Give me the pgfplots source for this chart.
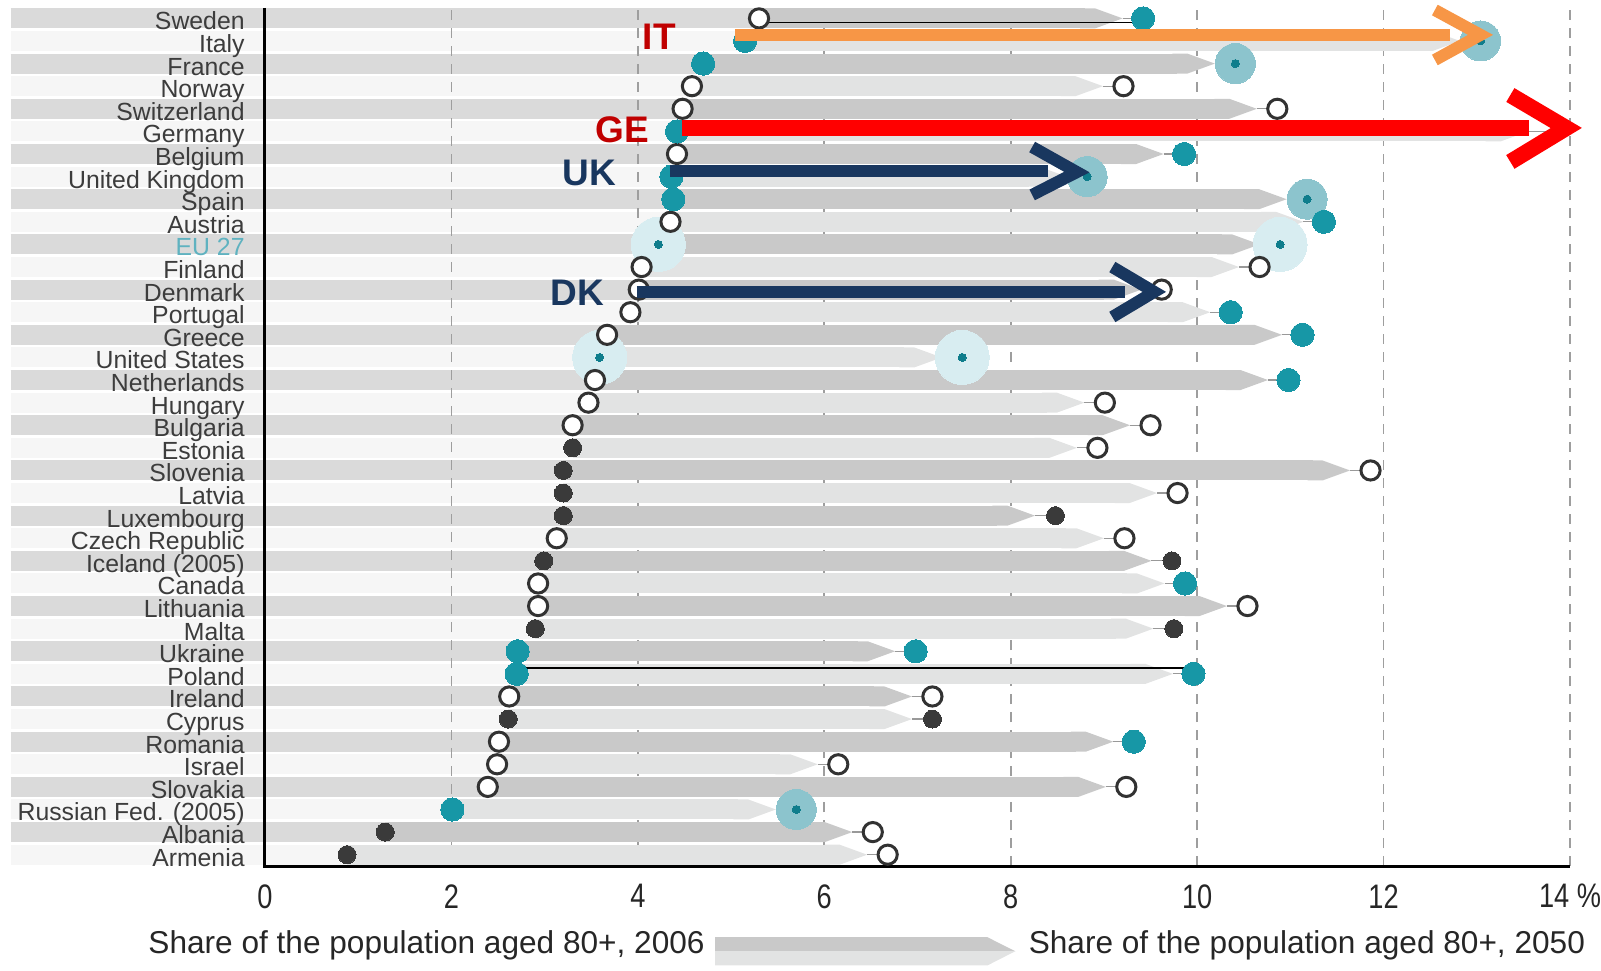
\documentclass[border=0pt]{standalone}
\usepackage{fontspec}
\setmainfont{Liberation Sans}
\newfontfamily\condfont{Liberation Sans}[FakeStretch=0.8]
\usepackage{pgfplots}
\pgfplotsset{compat=1.18}
\usepackage{pgfplotstable}
\usetikzlibrary{arrows.meta}

\definecolor{teal1}{RGB}{23,151,166}
\definecolor{tealmid}{RGB}{140,196,205}
\definecolor{teallight}{RGB}{216,237,241}
\definecolor{tealdark}{RGB}{15,125,140}
\definecolor{opened}{RGB}{50,50,50}
\definecolor{darkdot}{RGB}{58,58,58}
\definecolor{barA}{RGB}{201,201,201}
\definecolor{barB}{RGB}{226,227,227}
\definecolor{bandA}{RGB}{218,218,218}
\definecolor{bandB}{RGB}{246,246,246}
\definecolor{labgray}{RGB}{60,60,60}
\definecolor{eucol}{RGB}{95,178,192}
\definecolor{itorange}{RGB}{247,150,70}
\definecolor{gered}{RGB}{255,0,0}
\definecolor{navy}{RGB}{25,55,95}
\definecolor{darkred}{RGB}{192,0,0}

% y = -row ; a = 2006 ; b = 2050 ; ma/mb marker type
% 1 open, 2 teal, 3 dark, 4 big circle, 5 big light circle, 0 hidden
\pgfplotstableread{
y a ma b mb par
0 5.30 1 9.42 2 0
-1 5.15 2 13.04 4 1
-2 4.70 2 10.41 4 0
-3 4.58 1 9.21 1 1
-4 4.48 1 10.86 1 0
-5 4.42 2 13.77 0 1
-6 4.42 1 9.86 2 0
-7 4.36 2 8.82 4 1
-8 4.38 2 11.18 4 0
-9 4.35 1 11.36 2 1
-10 4.22 5 10.89 5 0
-11 4.04 1 10.67 1 1
-12 4.01 1 9.62 1 0
-13 3.92 1 10.36 2 1
-14 3.67 1 11.13 2 0
-15 3.59 5 7.48 5 1
-16 3.54 1 10.98 2 0
-17 3.47 1 9.01 1 1
-18 3.30 1 9.50 1 0
-19 3.30 3 8.93 1 1
-20 3.20 3 11.86 1 0
-21 3.20 3 9.79 1 1
-22 3.20 3 8.48 3 0
-23 3.13 1 9.22 1 1
-24 2.99 3 9.73 3 0
-25 2.93 1 9.87 2 1
-26 2.93 1 10.54 1 0
-27 2.90 3 9.75 3 1
-28 2.71 2 6.98 2 0
-29 2.70 2 9.96 2 1
-30 2.62 1 7.16 1 0
-31 2.61 3 7.16 3 1
-32 2.51 1 9.32 2 0
-33 2.49 1 6.15 1 1
-34 2.39 1 9.24 1 0
-35 2.01 2 5.70 4 1
-36 1.29 3 6.52 1 0
-37 0.88 3 6.68 1 1
}\data

\pgfplotsset{
  mopen/.style={only marks, mark=*, mark size=4.8pt, mark options={fill=white, draw=opened, line width=1.5pt}},
  mteal/.style={only marks, mark=*, mark size=5.8pt, mark options={fill=teal1, draw=teal1, line width=0pt}},
  mdark/.style={only marks, mark=*, mark size=4.5pt, mark options={fill=darkdot, draw=darkdot, line width=0pt}},
  mbig/.style={only marks, mark=*, mark size=10pt, mark options={fill=tealmid, draw=tealmid, line width=0pt}},
  mlight/.style={only marks, mark=*, mark size=13.5pt, mark options={fill=teallight, draw=teallight, line width=0pt}},
  mcenter/.style={only marks, mark=*, mark size=2pt, mark options={fill=tealdark, draw=tealdark, line width=0pt}},
}

\begin{document}
\begin{tikzpicture}
\begin{axis}[
  name=ax,
  set layers=standard,
  scale only axis,
  width=652.5pt, height=429pt,
  xmin=0, xmax=14, ymin=-37.5, ymax=0.46,
  clip=false,
  axis line style={draw=none},
  xtick={0,2,...,14},
  xticklabels={0,2,4,6,8,10,12,{14~\%\hspace{18pt}}},
  xticklabel style={anchor=north, inner sep=0pt, yshift=-9pt, font=\condfont\fontsize{17}{17}\selectfont, text=black!85},
  ytick={-37,-36,...,0},
  yticklabels={Armenia, Albania, {Russian Fed. (2005)}, Slovakia, Israel, Romania, Cyprus, Ireland, Poland, Ukraine, Malta, Lithuania, Canada, {Iceland (2005)}, {Czech Republic}, Luxembourg, Latvia, Slovenia, Estonia, Bulgaria, Hungary, Netherlands, {United States}, Greece, Portugal, Denmark, Finland, {\textcolor{eucol}{EU 27}}, Austria, Spain, {United Kingdom}, Belgium, Germany, Switzerland, Norway, France, Italy, Sweden},
  yticklabel style={anchor=base east, inner sep=0pt, xshift=-10pt, yshift=-5.75pt, font=\fontsize{12.4}{12.4}\selectfont, text=labgray},
  major tick length=0pt,
  xmajorgrids,
  grid style={dash pattern=on 5pt off 4pt, black!38, line width=0.8pt},
  /pgf/number format/assume math mode=true,
]
% left bands (label area up to the 2006 value)
\addplot[on layer=axis background, draw=bandA, line width=10pt, quiver={u=\thisrow{a}+2.73, v=0}, restrict expr to domain={\thisrow{par}}{0:0}] table[x expr=-2.73, y=y]{\data};
\addplot[on layer=axis background, draw=bandB, line width=10pt, quiver={u=\thisrow{a}+2.73, v=0}, restrict expr to domain={\thisrow{par}}{1:1}] table[x expr=-2.73, y=y]{\data};
% arrow bars from 2006 to 2050
\addplot[draw=barA, line width=10pt, -{Triangle Cap[cap angle=40]}, quiver={u=\thisrow{b}-\thisrow{a}-0.22, v=0}, restrict expr to domain={\thisrow{par}}{0:0}] table[x=a, y=y]{\data};
\addplot[draw=barB, line width=10pt, -{Triangle Cap[cap angle=40]}, quiver={u=\thisrow{b}-\thisrow{a}-0.22, v=0}, restrict expr to domain={\thisrow{par}}{1:1}] table[x=a, y=y]{\data};
% thin connectors
\addplot[draw=black!40, line width=0.6pt, quiver={u=0.22, v=0}] table[x expr=\thisrow{b}-0.22, y=y]{\data};
% axis lines
\draw[black, line width=1.5pt] (axis cs:0,0.46) -- (axis cs:0,-37.5) -- (axis cs:14,-37.5);
% long thin black lines
\addplot[black, line width=0.7pt] coordinates {(5.30,-0.19) (9.42,-0.19)};
\addplot[black, line width=0.7pt] coordinates {(2.70,-28.74) (9.96,-28.74)};
% markers 2006
\addplot[mlight, restrict expr to domain={\thisrow{ma}}{5:5}] table[x=a, y=y]{\data};
\addplot[mcenter, restrict expr to domain={\thisrow{ma}}{5:5}] table[x=a, y=y]{\data};
\addplot[mopen, restrict expr to domain={\thisrow{ma}}{1:1}] table[x=a, y=y]{\data};
\addplot[mteal, restrict expr to domain={\thisrow{ma}}{2:2}] table[x=a, y=y]{\data};
\addplot[mdark, restrict expr to domain={\thisrow{ma}}{3:3}] table[x=a, y=y]{\data};
% markers 2050
\addplot[mlight, restrict expr to domain={\thisrow{mb}}{5:5}] table[x=b, y=y]{\data};
\addplot[mcenter, restrict expr to domain={\thisrow{mb}}{5:5}] table[x=b, y=y]{\data};
\addplot[mbig, restrict expr to domain={\thisrow{mb}}{4:4}] table[x=b, y=y]{\data};
\addplot[mcenter, restrict expr to domain={\thisrow{mb}}{4:4}] table[x=b, y=y]{\data};
\addplot[mopen, restrict expr to domain={\thisrow{mb}}{1:1}] table[x=b, y=y]{\data};
\addplot[mteal, restrict expr to domain={\thisrow{mb}}{2:2}] table[x=b, y=y]{\data};
\addplot[mdark, restrict expr to domain={\thisrow{mb}}{3:3}] table[x=b, y=y]{\data};
% annotation arrows
\addplot[on layer=axis foreground, itorange, line width=6pt] coordinates {(5.04,-0.73) (12.71,-0.73)};
\addplot[on layer=axis foreground, itorange, line width=6pt, line join=miter] coordinates {(12.55,0.37) (13.04,-0.73) (12.55,-1.84)};
\addplot[on layer=axis foreground, gered, line width=8pt] coordinates {(4.47,-4.85) (13.56,-4.85)};
\addplot[on layer=axis foreground, gered, line width=8pt, line join=miter] coordinates {(13.36,-3.39) (13.96,-4.85) (13.36,-6.35)};
\addplot[on layer=axis foreground, navy, line width=6pt] coordinates {(4.35,-6.75) (8.40,-6.75)};
\addplot[on layer=axis foreground, navy, line width=6pt, line join=miter] coordinates {(8.23,-5.69) (8.71,-6.80) (8.23,-7.81)};
\addplot[on layer=axis foreground, navy, line width=6pt] coordinates {(3.99,-12.1) (9.23,-12.1)};
\addplot[on layer=axis foreground, navy, line width=6pt, line join=miter] coordinates {(9.09,-11.0) (9.54,-12.1) (9.09,-13.21)};
\begin{pgfonlayer}{axis foreground}
\node[font=\bfseries\fontsize{18.5}{18.5}\selectfont, text=darkred] at (axis cs:4.23,-0.82) {IT};
\node[font=\bfseries\fontsize{18.5}{18.5}\selectfont, text=darkred] at (axis cs:3.83,-4.93) {GE};
\node[font=\bfseries\fontsize{18.5}{18.5}\selectfont, text=navy] at (axis cs:3.48,-6.85) {UK};
\node[font=\bfseries\fontsize{18.5}{18.5}\selectfont, text=navy] at (axis cs:3.35,-12.15) {DK};
\end{pgfonlayer}
% bottom legend
\fill[barA] (axis cs:4.83,-40.65) -- (axis cs:7.75,-40.65) -- (axis cs:8.05,-41.27) -- (axis cs:4.83,-41.27) -- cycle;
\fill[barB] (axis cs:4.83,-41.27) -- (axis cs:8.05,-41.27) -- (axis cs:7.75,-41.9) -- (axis cs:4.83,-41.9) -- cycle;
\node[anchor=base east, inner sep=0pt, font=\fontsize{15.8}{15.8}\selectfont, text=black!85] at (axis cs:4.72,-41.35) {Share of the population aged 80+, 2006};
\node[anchor=base west, inner sep=0pt, font=\fontsize{15.8}{15.8}\selectfont, text=black!85] at (axis cs:8.19,-41.35) {Share of the population aged 80+, 2050};
\end{axis}
\pgfresetboundingbox
\path[use as bounding box] ([shift={(-132.5pt,-52pt)}]ax.south west) rectangle ([shift={(668pt,433pt)}]ax.south west);
\end{tikzpicture}
\end{document}
